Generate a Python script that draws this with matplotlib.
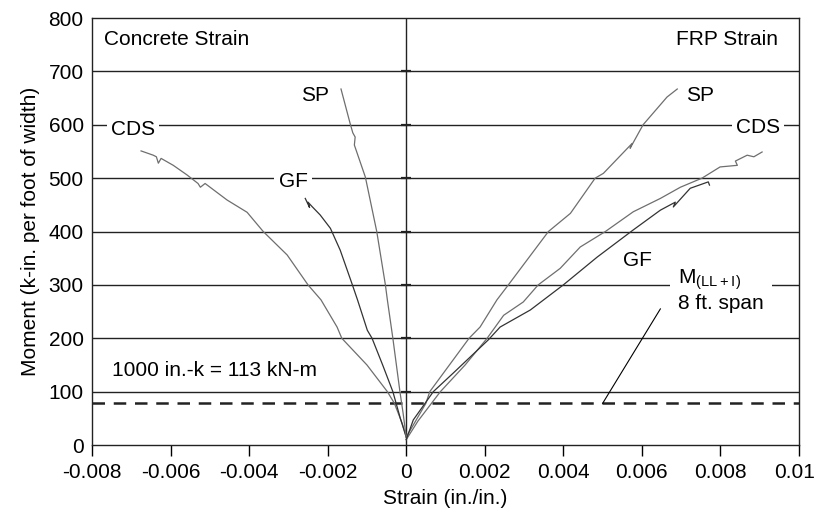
import numpy as np
import matplotlib.pyplot as plt
from matplotlib.transforms import ScaledTranslation

plt.rcParams['font.family'] = ['Liberation Sans', 'DejaVu Sans']

# --------------------------------------------------
# Data
# --------------------------------------------------

# concrete strain (negative side)
cds_c_x = [0.0, -0.00010, -0.00030, -0.00048, -0.00100, -0.00164, -0.00176, -0.00217,
           -0.00250, -0.00303, -0.00364, -0.00405, -0.00456, -0.00512, -0.00524,
           -0.00530, -0.00558, -0.00593, -0.00624, -0.00631, -0.00636, -0.00644, -0.00675]
cds_c_y = [15, 40, 78, 100, 150, 200, 221, 272,
           300, 356, 400, 436, 459, 490, 483,
           490, 506, 524, 537, 528, 540, 543, 551]

gf_c_x = [0.0, -0.00015, -0.00034, -0.00060, -0.00087, -0.00099, -0.00124, -0.00137,
          -0.00168, -0.00193, -0.00219, -0.00240, -0.00250, -0.00246, -0.00257]
gf_c_y = [15, 50, 100, 150, 200, 215, 272, 300,
          365, 406, 431, 447, 455, 445, 462]

sp_c_x = [0.0, -0.00008, -0.00016, -0.00034, -0.00048, -0.00053, -0.00075, -0.00104,
          -0.00132, -0.00130, -0.00136, -0.00143, -0.00166]
sp_c_y = [15, 60, 100, 200, 272, 300, 400, 502,
          562, 577, 585, 603, 667]

# FRP strain (positive side)
sp_f_x = [0.0, 0.00020, 0.00050, 0.00060, 0.00160, 0.00188, 0.00231, 0.00260,
          0.00362, 0.00418, 0.00481, 0.00502, 0.00575, 0.00570, 0.00603, 0.00664, 0.00690]
sp_f_y = [15, 40, 78, 100, 200, 221, 272, 300,
          400, 434, 500, 509, 565, 556, 600, 652, 667]

cds_f_x = [0.0, 0.00030, 0.00087, 0.00150, 0.00206, 0.00248, 0.00298, 0.00336, 0.00392,
           0.00443, 0.00507, 0.00578, 0.00647, 0.00698, 0.00753, 0.00799, 0.00843,
           0.00838, 0.00868, 0.00885, 0.00906]
cds_f_y = [10, 45, 100, 150, 200, 243, 268, 300, 331,
           371, 400, 437, 462, 483, 500, 521, 524,
           532, 543, 540, 549]

gf_f_x = [0.0, 0.00018, 0.00069, 0.00120, 0.00209, 0.00239, 0.00316, 0.00400, 0.00486,
          0.00578, 0.00647, 0.00685, 0.00680, 0.00723, 0.00769, 0.00772]
gf_f_y = [10, 47, 100, 135, 197, 221, 253, 300, 352,
          403, 440, 455, 446, 481, 493, 487]

m_ll = 78

x_ticks = [-0.008, -0.006, -0.004, -0.002, 0, 0.002, 0.004, 0.006, 0.008, 0.01]
x_labels = ['-0.008', '-0.006', '-0.004', '-0.002', '0', '0.002', '0.004', '0.006', '0.008', '0.01']
y_ticks = [0, 100, 200, 300, 400, 500, 600, 700, 800]

# --------------------------------------------------
# Plot
# --------------------------------------------------

fig = plt.figure(figsize=(8.16, 5.15), dpi=100)
ax = fig.add_axes([0.1127, 0.1359, 0.8665, 0.8291])

for yv in y_ticks[1:-1]:
    ax.axhline(yv, color='#222222', lw=1.0, zorder=1)
ax.axvline(0, color='#222222', lw=1.0, zorder=1)
ax.plot(np.zeros(len(y_ticks) - 2), y_ticks[1:-1], ls='none', marker='_', ms=7,
        mew=1.6, color='#222222', zorder=1)

light = '#6e6e6e'
dark = '#333333'
ax.plot(cds_c_x, cds_c_y, color=light, lw=0.9, zorder=3)
ax.plot(gf_c_x, gf_c_y, color=dark, lw=0.9, zorder=3)
ax.plot(sp_c_x, sp_c_y, color=light, lw=0.9, zorder=3)
ax.plot(sp_f_x, sp_f_y, color=light, lw=0.9, zorder=3)
ax.plot(cds_f_x, cds_f_y, color=light, lw=0.9, zorder=3)
ax.plot(gf_f_x, gf_f_y, color=dark, lw=0.9, zorder=3)

ax.axhline(m_ll, color='#222222', lw=1.8, dashes=(5, 3.5), zorder=2)
ax.plot([0.005, 0.00647], [m_ll, 255], color='black', lw=0.8, zorder=2)

box = dict(facecolor='white', edgecolor='none', pad=3)
fs = 15
ax.text(-0.0077, 760, 'Concrete Strain', fontsize=fs, va='center', ha='left')
ax.text(0.00947, 760, 'FRP Strain', fontsize=fs, va='center', ha='right')
ax.text(-0.00695, 592, 'CDS', fontsize=fs, va='center', ha='center', bbox=box, zorder=4)
ax.text(-0.00232, 654, 'SP', fontsize=fs, va='center', ha='center', zorder=4)
ax.text(-0.00288, 493, 'GF', fontsize=fs, va='center', ha='center', bbox=box, zorder=4)
ax.text(0.00749, 654, 'SP', fontsize=fs, va='center', ha='center', zorder=4)
ax.text(0.00896, 594, 'CDS', fontsize=fs, va='center', ha='center', bbox=box, zorder=4)
ax.text(0.00588, 346, 'GF', fontsize=fs, va='center', ha='center', zorder=4)
ax.text(0.00692, 290, 'M$_{\\mathregular{(LL+I)}}$\n8 ft. span', fontsize=fs,
        va='center', ha='left', linespacing=1.15,
        bbox=dict(facecolor='white', edgecolor='none', pad=6), zorder=4)
ax.text(-0.00749, 140, '1000 in.-k = 113 kN-m', fontsize=fs, va='center', ha='left')

ax.set_xlim(-0.008, 0.01)
ax.set_ylim(0, 800)
ax.set_xticks(x_ticks)
ax.set_xticklabels(x_labels)
ax.set_yticks(y_ticks)
ax.tick_params(axis='x', direction='out', length=8, width=1, labelsize=fs, pad=5)
ax.tick_params(axis='y', length=0, labelsize=fs, pad=6)
for s in ax.spines.values():
    s.set_color('#222222')
    s.set_linewidth(1.0)

# keep the last tick label inside the canvas
last = ax.get_xticklabels()[-1]
last.set_transform(last.get_transform() + ScaledTranslation(-4 / 100, 0, fig.dpi_scale_trans))

ax.set_xlabel('Strain (in./in.)', fontsize=fs, labelpad=5)
ax.set_ylabel('Moment (k-in. per foot of width)', fontsize=fs, labelpad=6)

fig.savefig('out.png', dpi=100)
